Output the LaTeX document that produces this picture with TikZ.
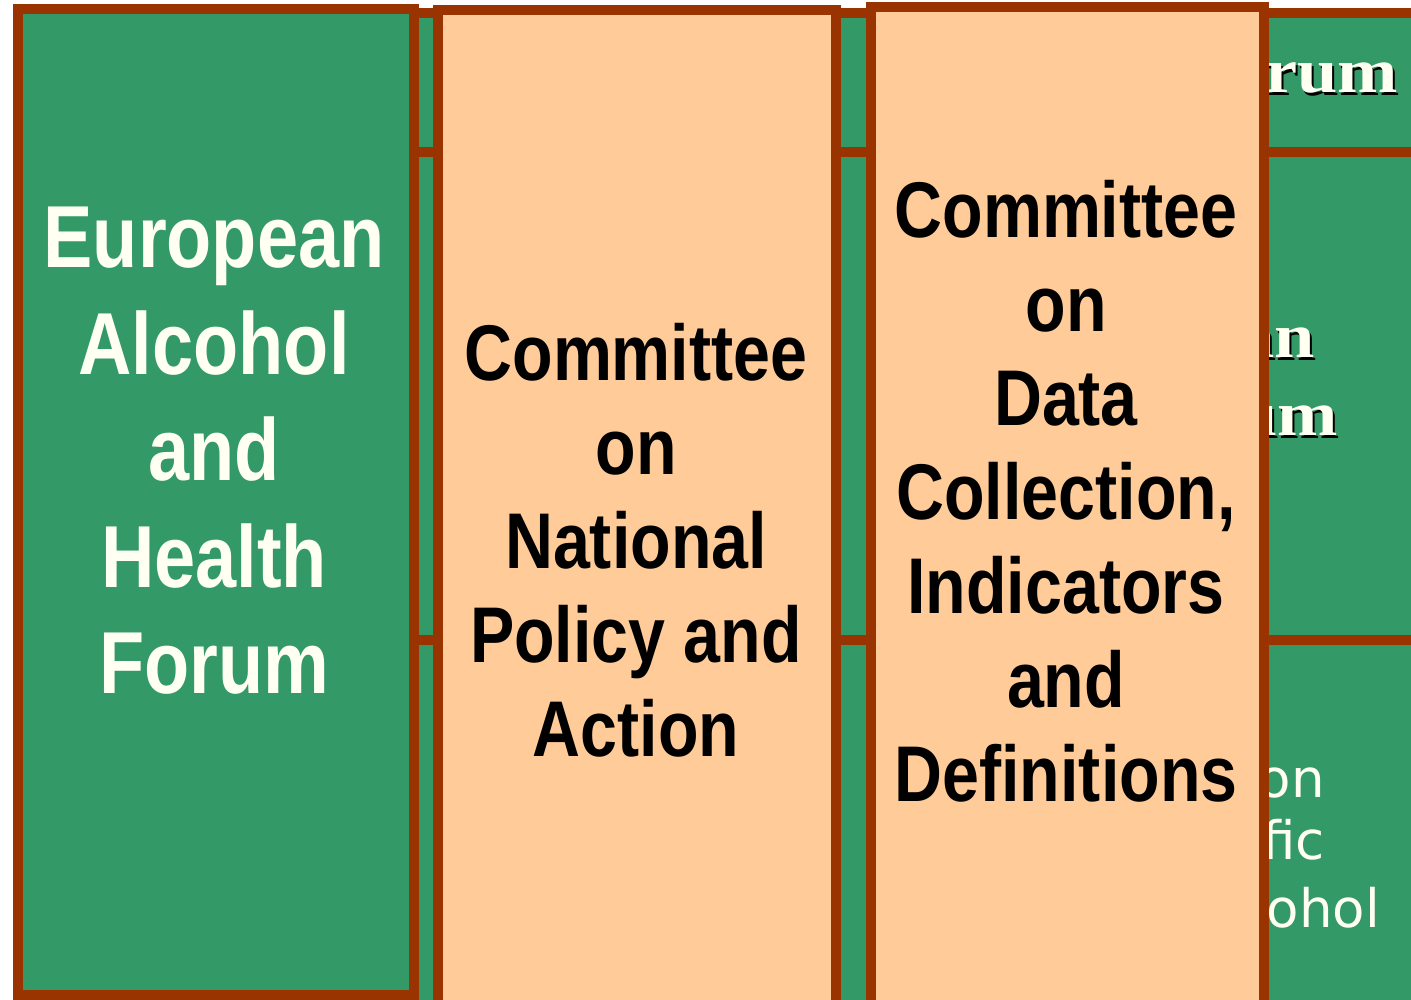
\documentclass[tikz,border=0pt]{standalone}
\usepackage{fontspec}
\usepackage{tikz}
\usetikzlibrary{positioning}
\newfontfamily\boxfont[FakeStretch=0.84]{Liberation Sans}
\newfontfamily\headfont[FakeStretch=1.15]{Liberation Serif}
\newfontfamily\rowfont{DejaVu Sans}
\definecolor{forumgreen}{HTML}{339966}
\definecolor{rimbrown}{HTML}{993300}
\definecolor{peach}{HTML}{FFCC99}
\definecolor{cream}{HTML}{FFFFF2}
% dark drop shadow under the serif labels
\newcommand\shadowed[1]{\rlap{\kern2pt\raisebox{-3pt}{\color{black}#1}}#1}

\begin{document}
\begin{tikzpicture}[
  x=1pt, y=-1pt,
  tile/.style={draw=rimbrown, fill=forumgreen, line width=10pt},
  greenbox/.style={draw=rimbrown, fill=forumgreen, line width=10pt, inner sep=0pt, outer sep=0pt},
  peachbox/.style={draw=rimbrown, fill=peach, line width=10pt, inner sep=0pt, outer sep=0pt},
  forumtxt/.style={font={\boxfont\bfseries\fontsize{88}{106.5}\selectfont}, text=cream, align=center, inner sep=0pt},
  cttxt/.style={font={\boxfont\bfseries\fontsize{79}{94}\selectfont}, text=black, align=center, inner sep=0pt},
  headfrag/.style={font={\headfont\bfseries\fontsize{63}{70}\selectfont}, text=cream, inner sep=0pt, anchor=base east},
  rowfrag/.style={font={\rowfont\fontsize{53}{62}\selectfont}, text=cream, inner sep=0pt, anchor=base east}
]
\clip (0,0) rectangle (1411,999);

% slide grid lying behind the three panels
\draw[tile] (300,13) rectangle (1430,152);
\draw[tile] (300,152) rectangle (1430,640);
\draw[tile] (300,640) rectangle (1430,1030);

% what is left of the grid's own labels
\node[headfrag] (rum) at (1398,92) {\shadowed{rum}};
\node[headfrag] (an) at (1315,357) {\shadowed{an}};
\node[headfrag] (um) at (1338,435) {\shadowed{um}};
\node[rowfrag] (on) at (1325,797) {on};
\node[rowfrag] (fic) at (1325,859) {fic};
\node[rowfrag] (ohol) at (1380,927) {ohol};

% the three panels
\node[greenbox, minimum width=396pt, minimum height=986pt] (forum) at (216,502) {};
\node[peachbox, minimum width=398pt, minimum height=995pt] (policy) at (637,507.5) {};
\node[peachbox, minimum width=393pt, minimum height=998pt] (data) at (1067.5,506) {};

\node[forumtxt] (forumlbl) at (214,451) {European\\Alcohol\\and\\Health\\Forum};
\node[cttxt] (policylbl) at (636,540) {Committee\\on\\National\\Policy and\\Action};
\node[cttxt] (datalbl) at (1066,491.5) {Committee\\on\\Data\\Collection,\\Indicators\\and\\Definitions};
\end{tikzpicture}
\end{document}
